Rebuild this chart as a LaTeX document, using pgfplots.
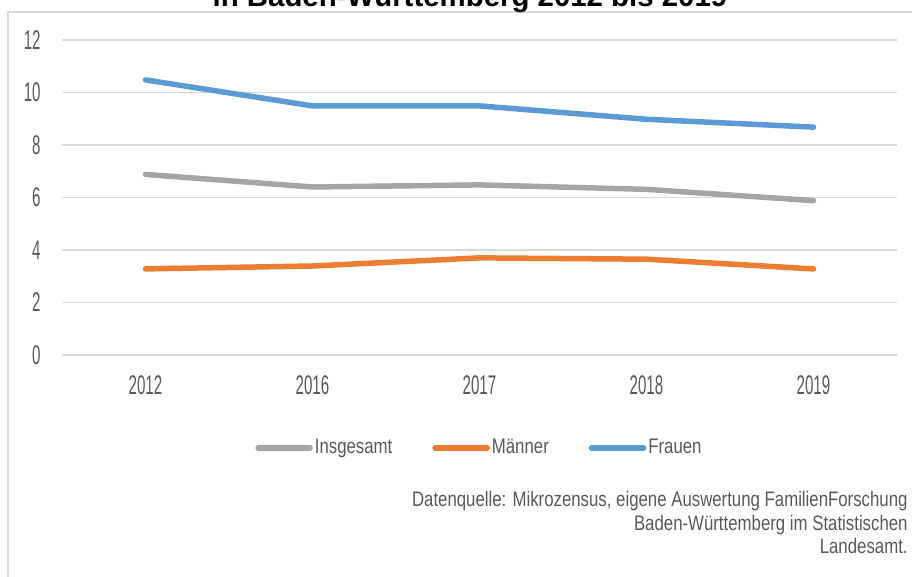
\documentclass[border=0pt]{standalone}
\usepackage{pgfplots}
\pgfplotsset{compat=1.18}
\usepackage{fontspec}
\setmainfont{Liberation Sans}
\newfontfamily\tickfont[FakeStretch=0.56]{Liberation Sans}
\newfontfamily\txtfont[FakeStretch=0.8]{Liberation Sans}
\definecolor{cgray}{HTML}{A5A5A5}
\definecolor{corange}{HTML}{ED7D31}
\definecolor{cblue}{HTML}{5B9BD5}
\definecolor{cgrid}{HTML}{D9D9D9}
\definecolor{ctext}{HTML}{595959}
\begin{document}
\begin{tikzpicture}
\useasboundingbox (0,0) rectangle (456pt,-288.5pt);
\clip (0,0) rectangle (456pt,-288.5pt);
\draw[cgrid, line width=1pt] (4pt,-300pt) -- (4pt,-6pt) -- (470pt,-6pt);
\node[anchor=base, font=\bfseries\fontsize{14.7pt}{16pt}\selectfont, text=black, inner sep=0] at (235pt,-3.5pt) {in Baden-Württemberg 2012 bis 2019};
\begin{axis}[
  at={(31pt,-177.5pt)}, anchor=south west,
  scale only axis, width=417.5pt, height=157.5pt,
  xmin=-0.5, xmax=4.5, ymin=0, ymax=12,
  xtick={0,1,2,3,4}, xticklabels={2012,2016,2017,2018,2019},
  ytick={0,2,4,6,8,10,12},
  ymajorgrids, grid style={cgrid, line width=0.75pt},
  axis line style={draw=none}, major tick length=0,
  /pgf/number format/assume math mode=true,
  ticklabel style={font=\tickfont\fontsize{13.5pt}{15pt}\selectfont, text=ctext, inner sep=0pt},
  yticklabel style={anchor=east, xshift=-10.5pt},
  xticklabel style={anchor=north, yshift=-10pt},
  legend columns=3,
  legend style={draw=none, fill=none, at={(0.5,-0.295)}, anchor=center,
    font=\txtfont\fontsize{10.5pt}{12pt}\selectfont, text=ctext,
    nodes={inner sep=1pt},
    /tikz/every even column/.append style={column sep=19pt}},
  legend image code/.code={\draw[#1, line width=2.75pt, line cap=round] (0pt,0pt) -- (26pt,0pt);},
  every axis plot/.append style={line width=2.75pt, line cap=round, line join=round},
]
\addplot[cgray] coordinates {(0,6.88) (1,6.4) (2,6.48) (3,6.31) (4,5.88)};
\addlegendentry{Insgesamt}
\addplot[corange] coordinates {(0,3.28) (1,3.39) (2,3.7) (3,3.65) (4,3.28)};
\addlegendentry{Männer}
\addplot[cblue] coordinates {(0,10.48) (1,9.49) (2,9.49) (3,8.98) (4,8.68)};
\addlegendentry{Frauen}
\end{axis}
\begin{scope}[every node/.style={anchor=base east, inner sep=0, text=ctext, font=\txtfont\fontsize{10.5pt}{12pt}\selectfont}]
\node at (454pt,-253.5pt) {Datenquelle: Mikrozensus, eigene Auswertung FamilienForschung};
\node at (454pt,-265.25pt) {Baden-Württemberg im Statistischen};
\node at (454pt,-277pt) {Landesamt.};
\end{scope}
\end{tikzpicture}
\end{document}
